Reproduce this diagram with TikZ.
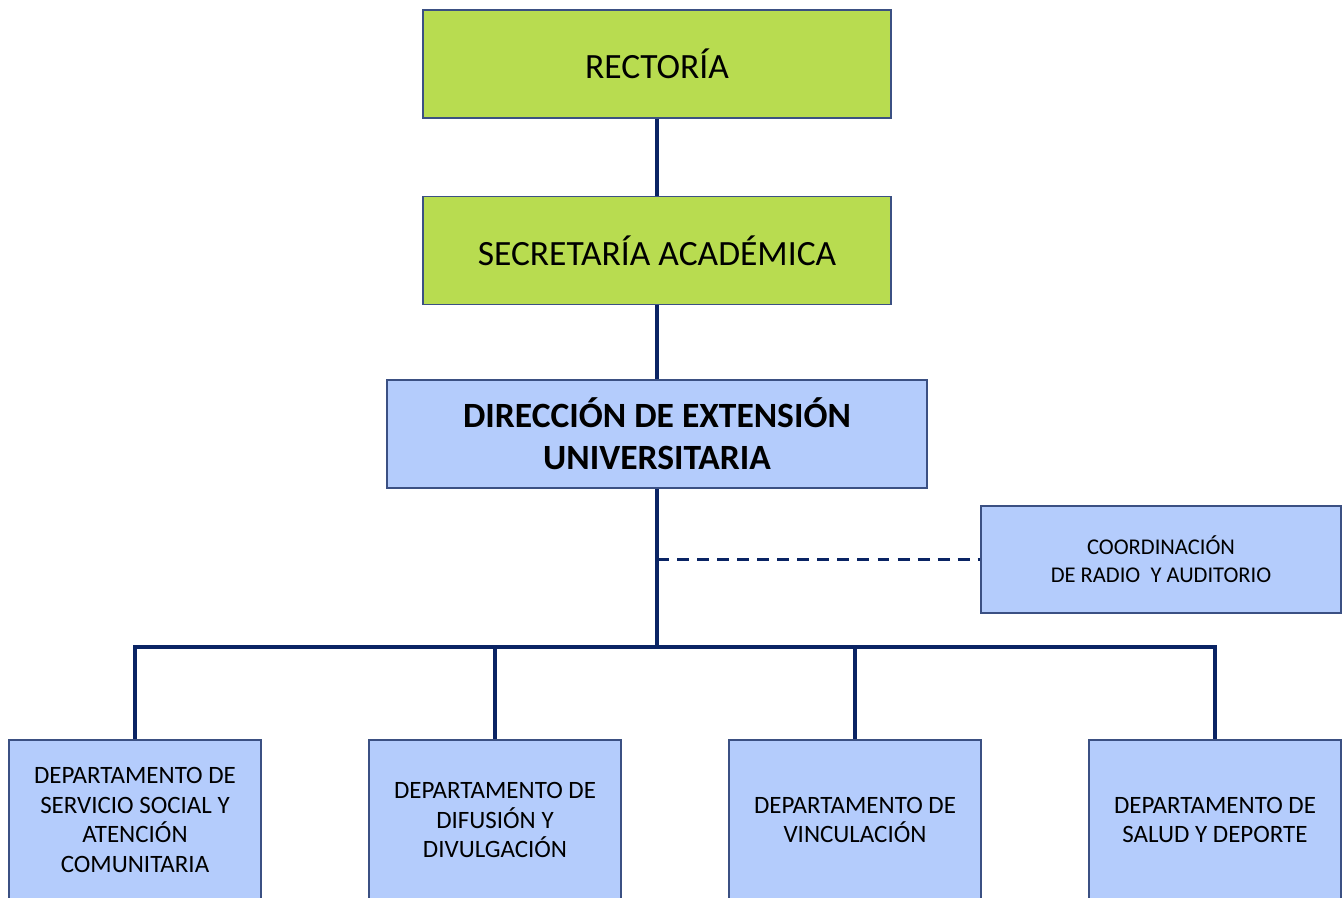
\documentclass[tikz,border=0pt]{standalone}
\usepackage{fontspec}
\setmainfont{Carlito}
\usepackage{tikz}
\definecolor{lima}{RGB}{184,220,80}
\definecolor{celeste}{RGB}{180,204,252}
\definecolor{marino}{RGB}{10,36,100}
\tikzset{font=\small}

\begin{document}
\begin{tikzpicture}[x=0.01cm,y=-0.01cm,
    caja/.style={draw=marino!80,line width=.5pt,align=center,inner sep=0pt},
    verde/.style={caja,fill=lima,minimum width=4.68cm,minimum height=1.08cm,
      font=\fontsize{10.1}{12.2}\selectfont},
    azul/.style={caja,fill=celeste},
    depto/.style={azul,minimum width=2.52cm,minimum height=1.6cm,
      font=\fontsize{7.1}{8.5}\selectfont},
    linea/.style={marino,line width=1.1pt}]
      \useasboundingbox (0,0) rectangle (1343,898);
      \clip (0,0) rectangle (1343,898);

      \node[verde] (rect) at (657,64) {RECTORÍA};
      \node[verde] (sec) at (657,250.5) {SECRETARÍA ACADÉMICA};
      \node[azul,minimum width=5.4cm,minimum height=1.08cm,
        font=\fontsize{10.1}{12}\selectfont\bfseries] (dir) at (657,434)
        {DIRECCIÓN DE EXTENSIÓN\\UNIVERSITARIA};
      \node[azul,minimum width=3.6cm,minimum height=1.07cm,
        font=\fontsize{6.4}{7.9}\selectfont] (coord) at (1161,559.5)
        {COORDINACIÓN\\DE RADIO~ Y AUDITORIO};

      \node[depto] (d1) at (135,820)
        {DEPARTAMENTO DE\\SERVICIO SOCIAL Y\\ATENCIÓN\\COMUNITARIA};
      \node[depto] (d2) at (495,820) {DEPARTAMENTO DE\\DIFUSIÓN Y\\DIVULGACIÓN};
      \node[depto] (d3) at (855,820) {DEPARTAMENTO DE\\VINCULACIÓN};
      \node[depto] (d4) at (1215,820) {DEPARTAMENTO DE\\SALUD Y DEPORTE};
      \coordinate (bus) at (657,647);

      \draw[linea] (rect) -- (sec);
      \draw[linea] (sec) -- (dir);
      \draw[linea] (dir) -- (bus);
      \draw[linea] (d1.north) |- (bus) -| (d4.north);
      \draw[linea] (d2.north) -- (d2.north |- bus);
      \draw[linea] (d3.north) -- (d3.north |- bus);
      \draw[linea,dash pattern=on 3.4pt off 2.3pt] (coord.west -| dir.south) -- (coord.west);
    \end{tikzpicture}
\end{document}
